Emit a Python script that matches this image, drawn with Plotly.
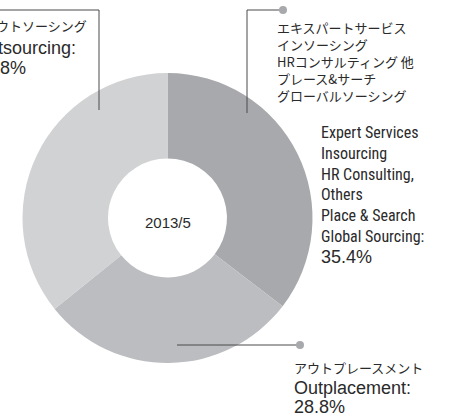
import plotly.graph_objects as go

# ---- data ----
labels_jp = [
    ["エキスパートサービス", "インソーシング", "HRコンサルティング 他", "プレース&サーチ", "グローバルソーシング"],
    ["アウトプレースメント"],
    ["アウトソーシング"],
]
labels_en = [
    ["Expert Services", "Insourcing", "HR Consulting,", "Others", "Place & Search", "Global Sourcing"],
    ["Outplacement"],
    ["Outsourcing"],
]
values = [35.4, 28.8, 35.8]
center_label = "2013/5"

colors = ["#a8a9ac", "#bcbdc0", "#d1d2d4"]

W, H = 450, 416
def px(x):
    return x / W
def py(y):
    return 1 - y / H

TXT = "#2a2a2a"
LINE = "#4a4a4a"
DOT = "#a8a9ac"
JP_FONT = "Noto Sans CJK JP"
NARROW = "Liberation Sans Narrow, Roboto Condensed, Roboto, sans-serif"
REG = "Liberation Sans, Arial, sans-serif"

fig = go.Figure()
fig.add_trace(go.Pie(
    labels=[l[0] for l in labels_jp],
    values=values,
    sort=False,
    direction="clockwise",
    rotation=0,
    hole=0.41,
    marker=dict(colors=colors, line=dict(width=0)),
    textinfo="none",
    hoverinfo="label+percent",
    showlegend=False,
    domain=dict(x=[px(22.5), px(312.5)], y=[py(363), py(73)]),
))

annotations = []
def txt(x, y, s, family, size):
    annotations.append(dict(x=px(x), y=py(y), text=s, showarrow=False,
                            xanchor="left", yanchor="middle", align="left",
                            borderpad=0, borderwidth=0,
                            font=dict(family=family, size=size, color=TXT)))

# center
annotations.append(dict(x=px(167.5), y=py(222), text=center_label, showarrow=False,
                        xanchor="center", yanchor="middle",
                        font=dict(family=REG, size=15, color=TXT)))

# right block (slice 0)
jp0 = labels_jp[0]
txt(277, 28 + 16.9 * (len(jp0) - 1) / 2, "<br>".join(jp0), JP_FONT, 13)
en0 = labels_en[0]
en0_text = "<br>".join(en0) + ":"
txt(321, 132 + 20.8 * (len(en0) - 1) / 2, en0_text, NARROW, 16)
txt(321, 132 + 20.8 * len(en0), f"{values[0]}%", REG, 18)

# bottom block (slice 1)
txt(294, 367, labels_jp[1][0], JP_FONT, 13)
txt(294, 388, labels_en[1][0] + ":", REG, 18)
txt(294, 407, f"{values[1]}%", REG, 18)

# left block (slice 2), cut off at the left edge
txt(-17, 25, labels_jp[2][0], JP_FONT, 13)
txt(-26, 48, labels_en[2][0] + ":", REG, 18)
txt(-25, 68, f"{values[2]}%", REG, 18)

shapes = []
def seg(x0, y0, x1, y1):
    shapes.append(dict(type="line", xref="paper", yref="paper",
                       x0=px(x0), y0=py(y0), x1=px(x1), y1=py(y1),
                       line=dict(color=LINE, width=1)))
def dot(cx, cy, r=4):
    shapes.append(dict(type="circle", xref="paper", yref="paper",
                       x0=px(cx - r), x1=px(cx + r), y0=py(cy + r), y1=py(cy - r),
                       fillcolor=DOT, line=dict(width=0)))

# right leader
seg(247, 10, 283, 10)
seg(247, 10, 247, 113)
dot(283, 10)
# bottom leader
seg(177, 345, 300, 345)
dot(300, 345)
# left leader
seg(99, 10, 99, 110)
seg(-20, 10, 99, 10)

fig.update_layout(
    width=W, height=H,
    margin=dict(l=0, r=0, t=0, b=0),
    paper_bgcolor="white",
    plot_bgcolor="white",
    annotations=annotations,
    shapes=shapes,
)

fig.write_html("out.html", config={"displayModeBar": False},
               post_script="document.body.style.margin='0';")
